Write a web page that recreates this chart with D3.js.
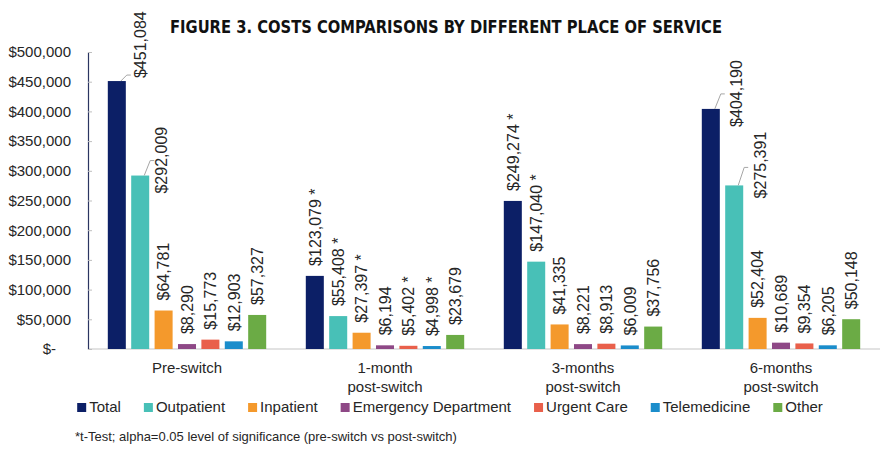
<!DOCTYPE html>
<html>
<head>
<meta charset="utf-8">
<script src="https://cdn.jsdelivr.net/npm/d3@7"></script>
<style>
  body { margin: 0; background: #fff; }
  svg text { font-family: 'Liberation Sans', Arial, sans-serif; fill: #262626; }
</style>
</head>
<body>
<svg id="chart" width="891" height="467"></svg>
<script>
// categories and series
var groups = ['Pre-switch', '1-month post-switch', '3-months post-switch', '6-months post-switch'];
var groupLines = [['Pre-switch'], ['1-month', 'post-switch'], ['3-months', 'post-switch'], ['6-months', 'post-switch']];
var series = ['Total', 'Outpatient', 'Inpatient', 'Emergency Department', 'Urgent Care', 'Telemedicine', 'Other'];

// costs per place of service, in series order
var preSwitch   = [451084, 292009, 64781, 8290, 15773, 12903, 57327];
var oneMonth    = [123079, 55408, 27397, 6194, 5402, 4998, 23679];
var threeMonths = [249274, 147040, 41335, 8221, 8913, 6009, 37756];
var sixMonths   = [404190, 275391, 52404, 10689, 9354, 6205, 50148];

// t-test significance flags (pre-switch vs post-switch)
var sigPre   = [0, 0, 0, 0, 0, 0, 0];
var sigOne   = [1, 1, 1, 0, 1, 1, 0];
var sigThree = [1, 1, 0, 0, 0, 0, 0];
var sigSix   = [0, 0, 0, 0, 0, 0, 0];

var yTicks = [0, 50000, 100000, 150000, 200000, 250000, 300000, 350000, 400000, 450000, 500000];

var colors = ['#0c1f66', '#48c0b7', '#f4992c', '#8e4886', '#e9604b', '#1b8dcb', '#6bab45'];

// labels that Excel pushed aside with a leader line
var labelShift = {
    'Pre-switch|Total': {dx: 23, dy: -3, rise: 6},
    'Pre-switch|Outpatient': {dx: 21, dy: 18, rise: 15},
    '6-months post-switch|Total': {dx: 25, dy: 18, rise: 15},
    '6-months post-switch|Outpatient': {dx: 26, dy: 13, rise: 18}
};

var allValues = [preSwitch, oneMonth, threeMonths, sixMonths];
var allSig = [sigPre, sigOne, sigThree, sigSix];

var data = [];
groups.forEach(function(g, gi){
    series.forEach(function(s, si){
        data.push({group: g, series: s, value: allValues[gi][si], sig: allSig[gi][si]});
    });
});

var svg = d3.select('#chart');
var margin = {top: 52, left: 88, right: 11, bottom: 118};
var width = 891 - margin.left - margin.right,
    height = 467 - margin.top - margin.bottom;

var x0 = d3.scaleBand().domain(groups).range([margin.left, margin.left + width]).paddingInner(0.2).paddingOuter(0.1);
var x1 = d3.scaleBand().domain(series).range([0, x0.bandwidth()]).paddingInner(0.23);
var y = d3.scaleLinear().domain([0, 500000]).range([margin.top + height, margin.top]);
var color = d3.scaleOrdinal().domain(series).range(colors);
var fmt = d3.format(',');

// title
svg.append('text')
    .attr('x', 446)
    .attr('y', 33)
    .attr('text-anchor', 'middle')
    .attr('textLength', 552)
    .attr('lengthAdjust', 'spacingAndGlyphs')
    .style('font-family', "'Liberation Sans Narrow', 'DejaVu Sans Condensed', sans-serif")
    .style('font-weight', 'bold')
    .style('font-size', '17px')
    .style('fill', '#111')
    .text('FIGURE 3. COSTS COMPARISONS BY DIFFERENT PLACE OF SERVICE');

// baseline
svg.append('line')
    .attr('x1', margin.left)
    .attr('x2', margin.left + width)
    .attr('y1', y(0))
    .attr('y2', y(0))
    .attr('stroke', '#d9d9d9')
    .attr('stroke-width', 1.5);

// y axis
var yAxis = svg.append('g')
    .attr('transform', 'translate(' + margin.left + ',0)')
    .call(d3.axisLeft(y).tickValues(yTicks).tickSizeInner(-4).tickSizeOuter(0).tickPadding(17)
        .tickFormat(function(d){ return d === 0 ? '$-' : '$' + fmt(d); }));
yAxis.select('.domain').attr('stroke', '#2b3561').attr('stroke-width', 1.2);
yAxis.selectAll('.tick line').attr('stroke', '#bfbfbf');
yAxis.selectAll('.tick text')
    .style('font-size', '15px')
    .attr('dx', function(d){ return d === 0 ? -15 : 0; });

// bars
svg.selectAll('.bar')
    .data(data)
    .join('rect')
    .attr('class', 'bar')
    .attr('x', d => x0(d.group) + x1(d.series))
    .attr('y', d => y(d.value))
    .attr('width', x1.bandwidth())
    .attr('height', d => y(0) - y(d.value))
    .attr('fill', d => color(d.series));

// leader lines
var shifted = data.filter(d => labelShift[d.group + '|' + d.series]);
svg.selectAll('.leader')
    .data(shifted)
    .join('polyline')
    .attr('class', 'leader')
    .attr('fill', 'none')
    .attr('stroke', '#a6a6a6')
    .attr('stroke-width', 1)
    .attr('points', function(d){
        var s = labelShift[d.group + '|' + d.series];
        var cx = x0(d.group) + x1(d.series) + x1.bandwidth() / 2;
        var top = y(d.value);
        return [[cx + 4, top], [cx + 10, top - s.rise], [cx + 14, top - s.rise]].join(' ');
    });

// value labels
svg.selectAll('.vlabel')
    .data(data)
    .join('text')
    .attr('class', 'vlabel')
    .attr('transform', function(d){
        var s = labelShift[d.group + '|' + d.series] || {dx: 0, dy: -10};
        var cx = x0(d.group) + x1(d.series) + x1.bandwidth() / 2 + s.dx;
        var by = y(d.value) + s.dy;
        return 'translate(' + cx + ',' + by + ') rotate(-90)';
    })
    .attr('dy', '0.36em')
    .style('font-size', '16px')
    .text(d => '$' + fmt(d.value) + (d.sig ? ' *' : ''));

// category labels
var cats = svg.selectAll('.cat')
    .data(groups)
    .join('text')
    .attr('class', 'cat')
    .attr('text-anchor', 'middle')
    .attr('x', d => x0(d) + x0.bandwidth() / 2)
    .attr('y', 373)
    .style('font-size', '15px');
cats.selectAll('tspan')
    .data((d, i) => groupLines[i])
    .join('tspan')
    .attr('x', function(){ return d3.select(this.parentNode).attr('x'); })
    .attr('dy', (d, i) => i === 0 ? 0 : 19)
    .text(d => d);

// legend
var legend = svg.append('g').attr('class', 'legend');
var items = legend.selectAll('g')
    .data(series)
    .join('g');
items.append('rect')
    .attr('width', 9)
    .attr('height', 9)
    .attr('y', -9)
    .attr('fill', d => color(d));
items.append('text')
    .attr('x', 12)
    .attr('y', 0)
    .style('font-size', '15px')
    .text(d => d);
var lx = 0;
items.each(function(){
    var g = d3.select(this);
    g.attr('transform', 'translate(' + lx + ',0)');
    lx += 12 + g.select('text').node().getComputedTextLength() + 23;
});
var legendWidth = lx - 23;
legend.attr('transform', 'translate(' + (450 - legendWidth / 2) + ',412)');

// footnote
svg.append('text')
    .attr('x', 75)
    .attr('y', 441)
    .style('font-size', '13px')
    .text('*t-Test; alpha=0.05 level of significance (pre-switch vs post-switch)');
</script>
</body>
</html>
